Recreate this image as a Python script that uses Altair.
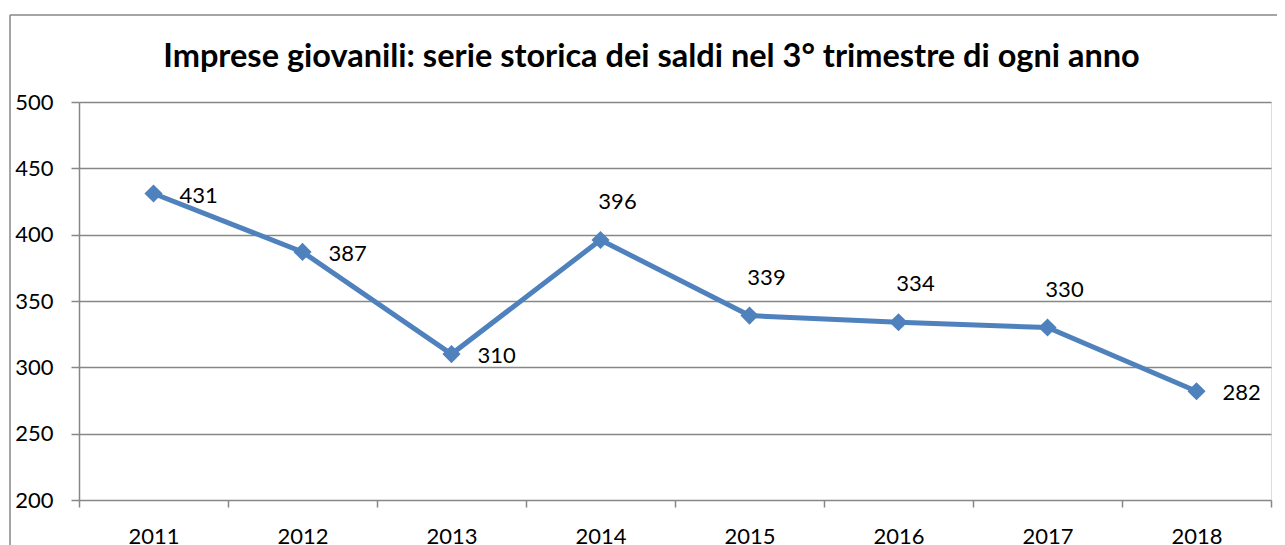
import altair as alt
import pandas as pd

# ---- data ----
years = ["2011", "2012", "2013", "2014", "2015", "2016", "2017", "2018"]
values = [431, 387, 310, 396, 339, 334, 330, 282]
y_ticks = [200, 250, 300, 350, 400, 450, 500]
title_text = "Imprese giovanili: serie storica dei saldi nel 3° trimestre di ogni anno"

# label placement groups (style, not data)
above_years = ["2014", "2015", "2016", "2017"]

df = pd.DataFrame({"anno": years, "saldo": values})
df["pos"] = ["above" if y in above_years else "right" for y in years]

W, H = 1192, 398
PAD = {"left": 71, "top": 94, "right": 6, "bottom": 45}
FONT = "Lato"
GRAY = "#878787"
BLUE = "#4F81BD"
FS = 22

x_enc = alt.X(
    "anno:N",
    sort=years,
    scale=alt.Scale(type="band", paddingInner=0, paddingOuter=0),
    axis=alt.Axis(
        title=None,
        labelAngle=0,
        tickBand="extent",
        grid=False,
        domain=False,
        tickSize=7,
        tickColor=GRAY,
        tickWidth=1.5,
        labelFont=FONT,
        labelFontSize=FS,
        labelColor="black",
        labelPadding=19,
    ),
)
y_enc = alt.Y(
    "saldo:Q",
    scale=alt.Scale(domain=[200, 500], nice=False, zero=False),
    axis=alt.Axis(
        title=None,
        values=y_ticks,
        tickSize=8,
        tickColor=GRAY,
        tickWidth=1.5,
        domainColor=GRAY,
        domainWidth=1.5,
        gridColor=GRAY,
        gridWidth=1.5,
        labelFont=FONT,
        labelFontSize=FS,
        labelColor="black",
        labelPadding=18,
    ),
)

base = alt.Chart(df).encode(x=x_enc, y=y_enc)

line = base.mark_line(color=BLUE, strokeWidth=5)
points = base.mark_point(shape="diamond", filled=True, size=330, color=BLUE, opacity=1)

labels_right = base.transform_filter(alt.datum.pos == "right").mark_text(
    align="left", baseline="middle", dx=26, dy=2, font=FONT, fontSize=FS, color="black"
).encode(text="saldo:Q")

labels_above = base.transform_filter(alt.datum.pos == "above").mark_text(
    align="center", baseline="alphabetic", dx=17, dy=-31, font=FONT, fontSize=FS, color="black"
).encode(text="saldo:Q")

frame_df = pd.DataFrame({"k": [0]})
frame_left = alt.Chart(frame_df).mark_rule(color=GRAY, strokeWidth=1.5).encode(
    x=alt.value(-69), y=alt.value(-87), y2=alt.value(H + PAD["bottom"])
)
frame_top = alt.Chart(frame_df).mark_rule(color=GRAY, strokeWidth=1.5).encode(
    x=alt.value(-69), x2=alt.value(W + PAD["right"]), y=alt.value(-87)
)

chart = (
    alt.layer(frame_left, frame_top, line, points, labels_right, labels_above)
    .properties(
        width=W,
        height=H,
        padding=PAD,
        autosize=alt.AutoSizeParams(type="none"),
        title=alt.TitleParams(
            title_text,
            font=FONT,
            fontSize=32.5,
            fontWeight="bold",
            color="black",
            anchor="middle",
            frame="group",
            dx=-23.5,
            offset=-85,
            baseline="alphabetic",
        ),
    )
    .configure_view(stroke=None)
    .configure(background="white")
)

chart.save("out.html", embed_options={"renderer": "svg", "actions": False})
